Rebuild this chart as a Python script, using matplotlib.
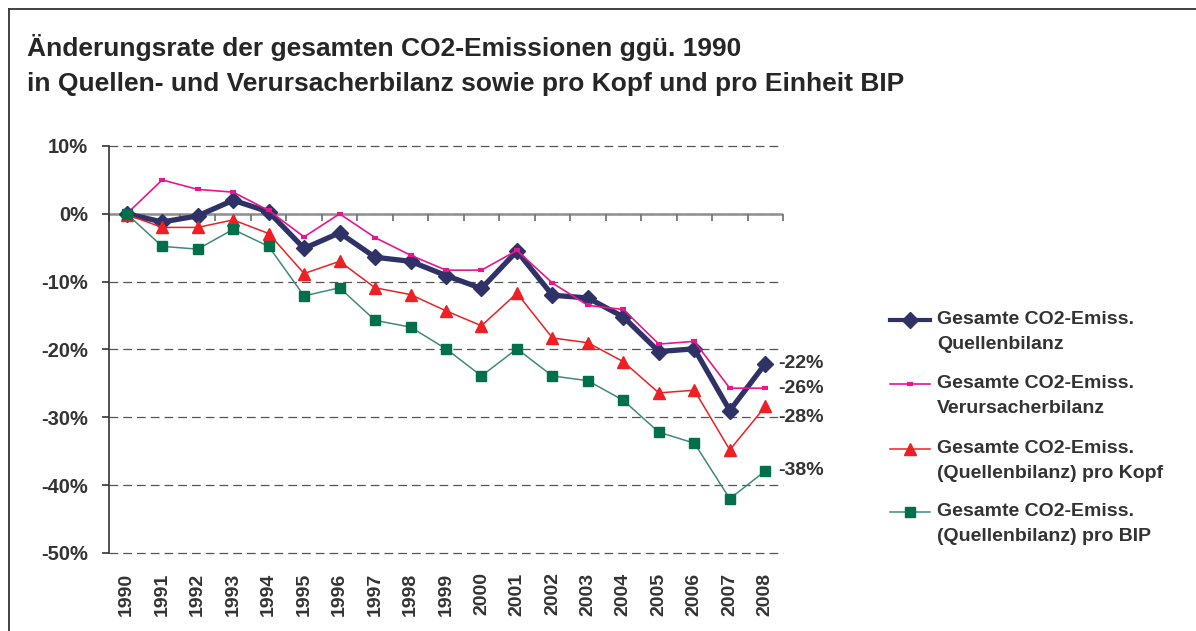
import numpy as np
import matplotlib
matplotlib.use("Agg")
import matplotlib.pyplot as plt
from matplotlib.lines import Line2D

# Daten (Änderung ggü. 1990 in %)
years = ['1990', '1991', '1992', '1993', '1994', '1995', '1996', '1997', '1998', '1999',
         '2000', '2001', '2002', '2003', '2004', '2005', '2006', '2007', '2008']
quellen = [0, -1.2, -0.3, 2.0, 0.3, -5.1, -2.8, -6.4, -7.0, -9.1,
           -11.0, -5.5, -12.0, -12.4, -15.2, -20.3, -19.9, -29.0, -22.1]
verursacher = [0, 5.0, 3.6, 3.2, 0.5, -3.4, 0.0, -3.5, -6.1, -8.3,
               -8.3, -5.4, -10.2, -13.5, -14.1, -19.2, -18.8, -25.7, -25.7]
pro_kopf = [-0.1, -2.0, -2.0, -0.9, -2.9, -8.8, -7.0, -10.9, -11.9, -14.3,
            -16.5, -11.7, -18.3, -19.0, -21.8, -26.4, -26.0, -34.8, -28.4]
pro_bip = [0, -4.8, -5.2, -2.3, -4.8, -12.1, -10.9, -15.7, -16.7, -19.9,
           -23.9, -19.9, -23.9, -24.6, -27.5, -32.2, -33.8, -42.0, -37.9]

series_names = ['Gesamte CO2-Emiss.\nQuellenbilanz',
                'Gesamte CO2-Emiss.\nVerursacherbilanz',
                'Gesamte CO2-Emiss.\n(Quellenbilanz) pro Kopf',
                'Gesamte CO2-Emiss.\n(Quellenbilanz) pro BIP']
end_label_offsets = [0, 0, -8, 0]  # vertikaler Versatz der Endbeschriftungen (pt)

plt.rcParams['font.family'] = ['Liberation Sans', 'DejaVu Sans']
plt.rcParams['font.weight'] = 'bold'
txt_col = '#333333'

fig = plt.figure(figsize=(11.96, 6.31), dpi=100)
W, H = 1196, 631
ax = fig.add_axes([109 / W, 1 - 553 / H, (783 - 109) / W, (553 - 146) / H])

x = np.arange(len(years))
styles = [
    dict(color='#2f3267', lw=3.8, marker='D', ms=8.5),
    dict(color='#e8168f', lw=1.2, marker='_', ms=5, mew=3),
    dict(color='#ee2024', lw=1.1, marker='^', ms=8),
    dict(color='#3f8a7a', lw=1.1, marker='s', ms=6.5, mfc='#00704a', mec='#00704a'),
]
all_series = [quellen, verursacher, pro_kopf, pro_bip]
for i, (vals, st) in enumerate(zip(all_series, styles)):
    ax.plot(x, vals, zorder=3 + i, clip_on=False, **st)

ymin, ymax = -50, 10
ax.set_xlim(-0.5, len(years) - 0.5)
ax.set_ylim(ymin, ymax)

# Nulllinie mit Kategorie-Teilstrichen
ax.axhline(0, color='#8f8f8f', lw=1.8, zorder=2)
ax.plot(np.arange(len(years) + 1) - 0.5, np.zeros(len(years) + 1), ls='none',
        marker=3, ms=5, mew=1.3, color='#777777', zorder=2, clip_on=False)

ax.set_yticks(range(ymin, ymax + 1, 10))
ax.set_yticklabels([f"{v}%" for v in range(ymin, ymax + 1, 10)])
ax.yaxis.grid(True, ls=(0, (7, 4)), color='#555555', lw=0.9)
for gl in ax.get_ygridlines():
    gl.set_clip_on(False)
ax.set_axisbelow(True)
for s in ['top', 'right', 'bottom']:
    ax.spines[s].set_visible(False)
ax.spines['left'].set_color('#333333')
ax.spines['left'].set_linewidth(1.2)
ax.tick_params(axis='y', length=5, width=1.2, color='#333333', pad=10,
               labelsize=14.5, labelcolor=txt_col)

ax.set_xticks(x)
ax.set_xticklabels(years, rotation=90)
ax.tick_params(axis='x', length=0, pad=14, labelsize=14, labelcolor=txt_col)

# Endwerte beschriften
for vals, dy in zip(all_series, end_label_offsets):
    ax.annotate(f"{round(vals[-1]):.0f}%", xy=(x[-1], vals[-1]), xytext=(9, dy),
                textcoords='offset points', va='center', ha='left', fontsize=14,
                color=txt_col, annotation_clip=False)

# Titel
fig.text(27 / W, 1 - 56 / H, 'Änderungsrate der gesamten CO2-Emissionen ggü. 1990',
         fontsize=19, color='#262626', va='baseline')
fig.text(27 / W, 1 - 91 / H, 'in Quellen- und Verursacherbilanz sowie pro Kopf und pro Einheit BIP',
         fontsize=19, color='#262626', va='baseline')

# Legende (von Hand, Symbol auf Höhe der ersten Zeile)
leg_y = [320, 384, 449, 512]
for name, st, yy in zip(series_names, styles, leg_y):
    st2 = dict(st)
    st2['lw'] = min(st['lw'], 3.0)
    fig.add_artist(Line2D([890 / W, 910 / W, 930 / W], [1 - yy / H] * 3,
                          transform=fig.transFigure, markevery=[1], **st2))
    fig.text(937 / W, 1 - (yy + 12) / H, name, fontsize=14, color=txt_col,
             va='center', linespacing=1.55, transform=fig.transFigure)

# Rahmen
fig.add_artist(Line2D([9 / W, 9 / W], [0, 1 - 9 / H], transform=fig.transFigure,
                      color='#333333', lw=1.3))
fig.add_artist(Line2D([9 / W, 1], [1 - 9 / H, 1 - 9 / H], transform=fig.transFigure,
                      color='#333333', lw=1.3))

fig.savefig('out.png', dpi=100)
